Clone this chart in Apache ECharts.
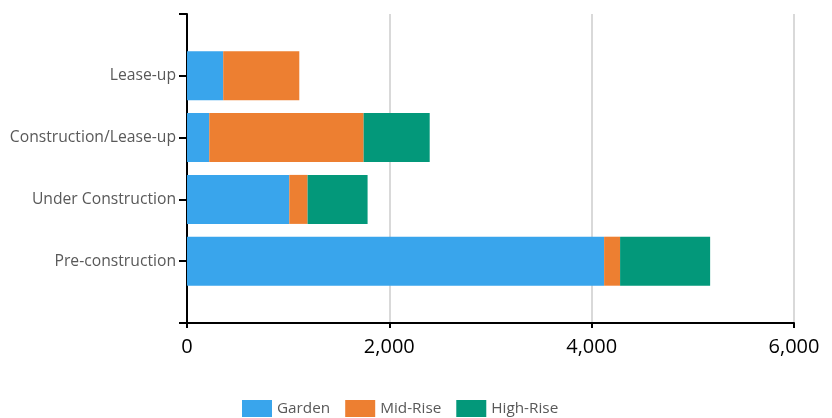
<!DOCTYPE html>
<html>
<head>
<meta charset="utf-8">
<script src="https://cdn.jsdelivr.net/npm/echarts@6/dist/echarts.min.js"></script>
<style>html,body{margin:0;padding:0;background:#fff}#c{width:832px;height:418px}</style>
</head>
<body>
<div id="c"></div>
<script>
const categories = ['', 'Lease-up', 'Construction/Lease-up', 'Under Construction', 'Pre-construction', ''];
const garden = [null, 358, 220, 1011, 4123, null];
const midRise = [null, 752, 1526, 181, 158, null];
const highRise = [null, null, 653, 593, 890, null];
const xTicks = { min: 0, max: 6000, interval: 2000 };

const font = '"Open Sans", sans-serif';
const chart = echarts.init(document.getElementById('c'));
chart.setOption({
  animation: false,
  textStyle: { fontFamily: font },
  grid: { left: 187, right: 38, top: 14, bottom: 95, containLabel: false },
  legend: {
    top: 400, left: 242, padding: 0,
    icon: 'rect', itemWidth: 30, itemHeight: 17, itemGap: 15,
    textStyle: { fontFamily: font, fontSize: 15.3, color: '#595959' },
    data: ['Garden', 'Mid-Rise', 'High-Rise']
  },
  xAxis: {
    type: 'value', min: xTicks.min, max: xTicks.max, interval: xTicks.interval,
    axisLine: { show: true, lineStyle: { color: '#000', width: 2 } },
    axisTick: { show: true, length: 5, lineStyle: { color: '#000', width: 2 } },
    axisLabel: { fontFamily: font, fontSize: 20, color: '#000', margin: 14,
      formatter: v => v.toLocaleString('en-US') },
    splitLine: { show: true, lineStyle: { color: '#d9d9d9', width: 2 } }
  },
  yAxis: {
    type: 'category', data: categories, inverse: true, boundaryGap: false,
    axisLine: { show: true, lineStyle: { color: '#000', width: 2 } },
    axisTick: { show: true, length: 8, interval: 0, lineStyle: { color: '#000', width: 2 } },
    axisLabel: { fontFamily: font, fontSize: 15.7, color: '#595959', margin: 11, interval: 0 },
    splitLine: { show: false }
  },
  series: [
    { name: 'Garden', type: 'bar', stack: 's', data: garden, barWidth: 49, itemStyle: { color: '#39a5ec' } },
    { name: 'Mid-Rise', type: 'bar', stack: 's', data: midRise, barWidth: 49, itemStyle: { color: '#ed7f31' } },
    { name: 'High-Rise', type: 'bar', stack: 's', data: highRise, barWidth: 49, itemStyle: { color: '#03987a' } }
  ]
});
</script>
</body>
</html>
